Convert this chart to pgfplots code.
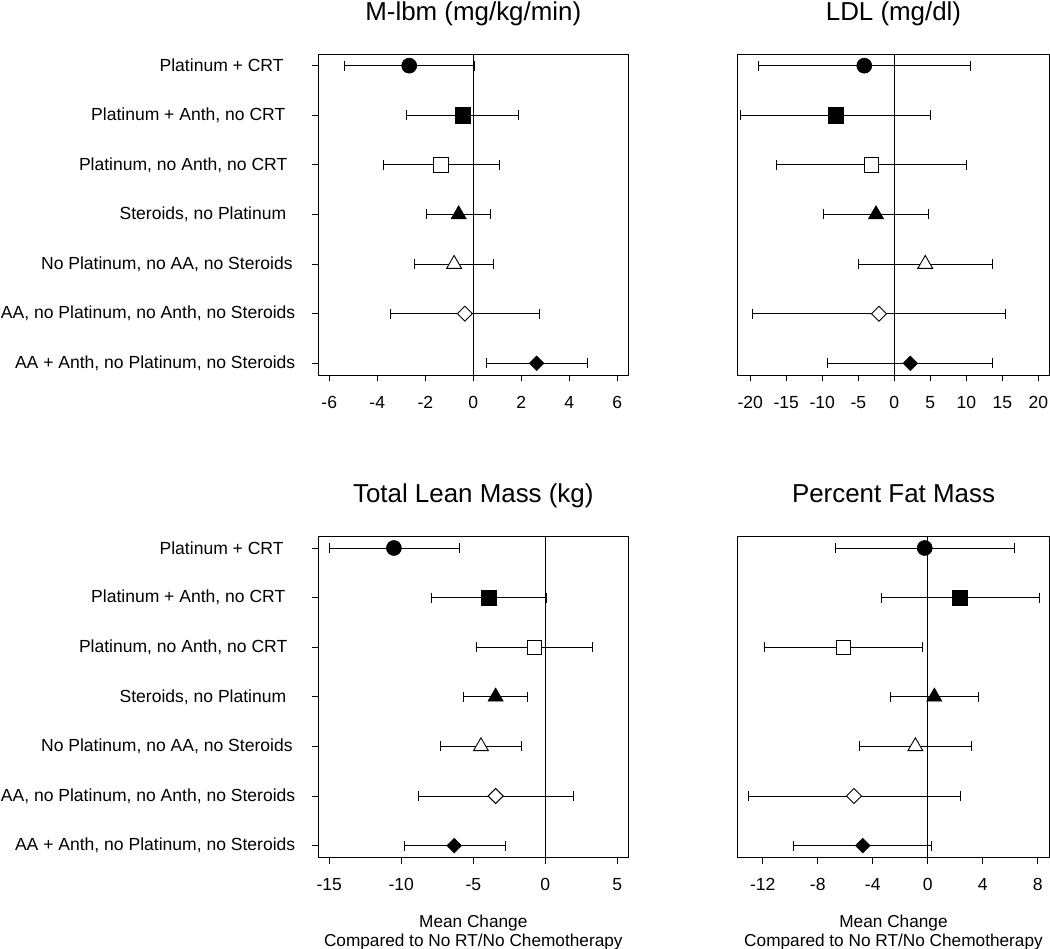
\documentclass[border=0pt]{standalone}
\usepackage{fontspec}
\setmainfont{Liberation Sans}
\usepackage{pgfplots}
\pgfplotsset{compat=1.18}

\pgfdeclareplotmark{rdiamond}{%
  \pgfpathmoveto{\pgfqpoint{0pt}{\pgfplotmarksize}}%
  \pgfpathlineto{\pgfqpoint{\pgfplotmarksize}{0pt}}%
  \pgfpathlineto{\pgfqpoint{0pt}{-\pgfplotmarksize}}%
  \pgfpathlineto{\pgfqpoint{-\pgfplotmarksize}{0pt}}%
  \pgfpathclose\pgfusepathqfillstroke}

\pgfplotsset{
  panel/.style={
    scale only axis, height=321bp,
    ymin=0.764, ymax=7.236, ytick={1,...,7},
    tick align=outside, xtick pos=bottom, ytick pos=left,
    major tick length=6.5bp,
    axis line style={line width=0.9bp, black},
    tick style={line width=0.9bp, black},
    clip=false,
    ticklabel style={font=\fontsize{17.6}{20}\selectfont},
    xticklabel style={yshift=-11bp},
    yticklabel style={xshift=-13bp},
    /pgf/number format/assume math mode=true,
    title style={font=\fontsize{26}{30}\selectfont, anchor=base, yshift=28bp, inner sep=0pt},
    every axis x label/.style={at={(axis description cs:0.5,0)}, anchor=north, yshift=-57.7bp,
      font=\fontsize{17.3}{19}\selectfont, align=center, inner sep=0pt},
  },
  cats/.style={yticklabels={
    {AA + Anth, no Platinum, no Steroids},
    {AA, no Platinum, no Anth, no Steroids},
    {No Platinum, no AA, no Steroids\hspace*{2.7bp}},
    {Steroids, no Platinum\hspace*{9bp}},
    {Platinum, no Anth, no CRT\hspace*{8bp}},
    {Platinum + Anth, no CRT\hspace*{10bp}},
    {Platinum + CRT\hspace*{11.7bp}}}},
  ci/.style={black, line width=0.9bp, mark=|, mark size=5bp, mark options={line width=0.9bp, black}},
  zl/.style={black, line width=0.9bp, mark=none},
  m7/.style={only marks, mark=*, mark size=7.5bp, mark options={fill=black, draw=black, line width=0.6bp}},
  m6/.style={only marks, mark=square*, mark size=7.7bp, mark options={fill=black, draw=black, line width=0.6bp}},
  m5/.style={only marks, mark=square*, mark size=7.1bp, mark options={fill=white, draw=black, line width=0.9bp}},
  m4/.style={only marks, mark=triangle*, mark size=8.8bp, mark options={fill=black, draw=black, line width=0.6bp}},
  m3/.style={only marks, mark=triangle*, mark size=8.6bp, mark options={fill=white, draw=black, line width=0.9bp}},
  m2/.style={only marks, mark=rdiamond, mark size=7.5bp, mark options={fill=white, draw=black, line width=0.9bp}},
  m1/.style={only marks, mark=rdiamond, mark size=7.3bp, mark options={fill=black, draw=black, line width=0.6bp}},
}
% #1 marker style, #2 row, #3 mean, #4 lower, #5 upper
\newcommand{\ci}[5]{%
  \addplot[ci] coordinates {(#4,#2) (#5,#2)};
  \addplot[#1] coordinates {(#3,#2)};
}

\begin{document}
\begin{tikzpicture}
\useasboundingbox (0,0) rectangle (1050bp,949bp);

% M-lbm
\begin{axis}[panel, at={(318.3bp,574bp)}, anchor=south west, width=310bp,
  xmin=-6.458, xmax=6.458, xtick={-6,-4,-2,0,2,4,6},
  cats,
  title={M-lbm (mg/kg/min)}]
\addplot[zl] coordinates {(0,0.764) (0,7.236)};
\ci{m7}{7}{-2.67}{-5.37}{0.06}
\ci{m6}{6}{-0.44}{-2.78}{1.90}
\ci{m5}{5}{-1.35}{-3.75}{1.07}
\ci{m4}{4}{-0.61}{-1.96}{0.72}
\ci{m3}{3}{-0.80}{-2.46}{0.85}
\ci{m2}{2}{-0.35}{-3.47}{2.77}
\ci{m1}{1}{2.64}{0.53}{4.75}
\end{axis}

% LDL
\begin{axis}[panel, at={(737.7bp,574bp)}, anchor=south west, width=311.6bp,
  xmin=-21.75, xmax=21.53, xtick={-20,-15,...,20}, ytick=\empty,
  title={LDL (mg/dl)}]
\addplot[zl] coordinates {(0,0.764) (0,7.236)};
\ci{m7}{7}{-4.17}{-18.9}{10.6}
\ci{m6}{6}{-8.14}{-21.3}{4.96}
\ci{m5}{5}{-3.14}{-16.3}{10.0}
\ci{m4}{4}{-2.54}{-9.9}{4.77}
\ci{m3}{3}{4.30}{-4.95}{13.6}
\ci{m2}{2}{-2.13}{-19.7}{15.4}
\ci{m1}{1}{2.22}{-9.3}{13.7}
\end{axis}

% Total Lean Mass
\begin{axis}[panel, at={(318.3bp,91.7bp)}, anchor=south west, width=310bp,
  xmin=-15.76, xmax=5.76, xtick={-15,-10,-5,0,5},
  cats,
  title={Total Lean Mass (kg)},
  xlabel={Mean Change\\Compared to No RT/No Chemotherapy}]
\addplot[zl] coordinates {(0,0.764) (0,7.236)};
\ci{m7}{7}{-10.51}{-14.97}{-5.99}
\ci{m6}{6}{-3.93}{-7.94}{0.07}
\ci{m5}{5}{-0.76}{-4.81}{3.24}
\ci{m4}{4}{-3.45}{-5.69}{-1.27}
\ci{m3}{3}{-4.47}{-7.29}{-1.67}
\ci{m2}{2}{-3.45}{-8.84}{1.92}
\ci{m1}{1}{-6.32}{-9.79}{-2.80}
\end{axis}

% Percent Fat Mass
\begin{axis}[panel, at={(737.7bp,91.7bp)}, anchor=south west, width=311.6bp,
  xmin=-13.82, xmax=8.84, xtick={-12,-8,-4,0,4,8}, ytick=\empty,
  title={Percent Fat Mass},
  xlabel={Mean Change\\Compared to No RT/No Chemotherapy}]
\addplot[zl] coordinates {(0,0.764) (0,7.236)};
\ci{m7}{7}{-0.22}{-6.69}{6.30}
\ci{m6}{6}{2.35}{-3.39}{8.15}
\ci{m5}{5}{-6.13}{-11.88}{-0.36}
\ci{m4}{4}{0.48}{-2.72}{3.68}
\ci{m3}{3}{-0.90}{-4.95}{3.15}
\ci{m2}{2}{-5.36}{-13.02}{2.35}
\ci{m1}{1}{-4.73}{-9.77}{0.24}
\end{axis}
\end{tikzpicture}
\end{document}
